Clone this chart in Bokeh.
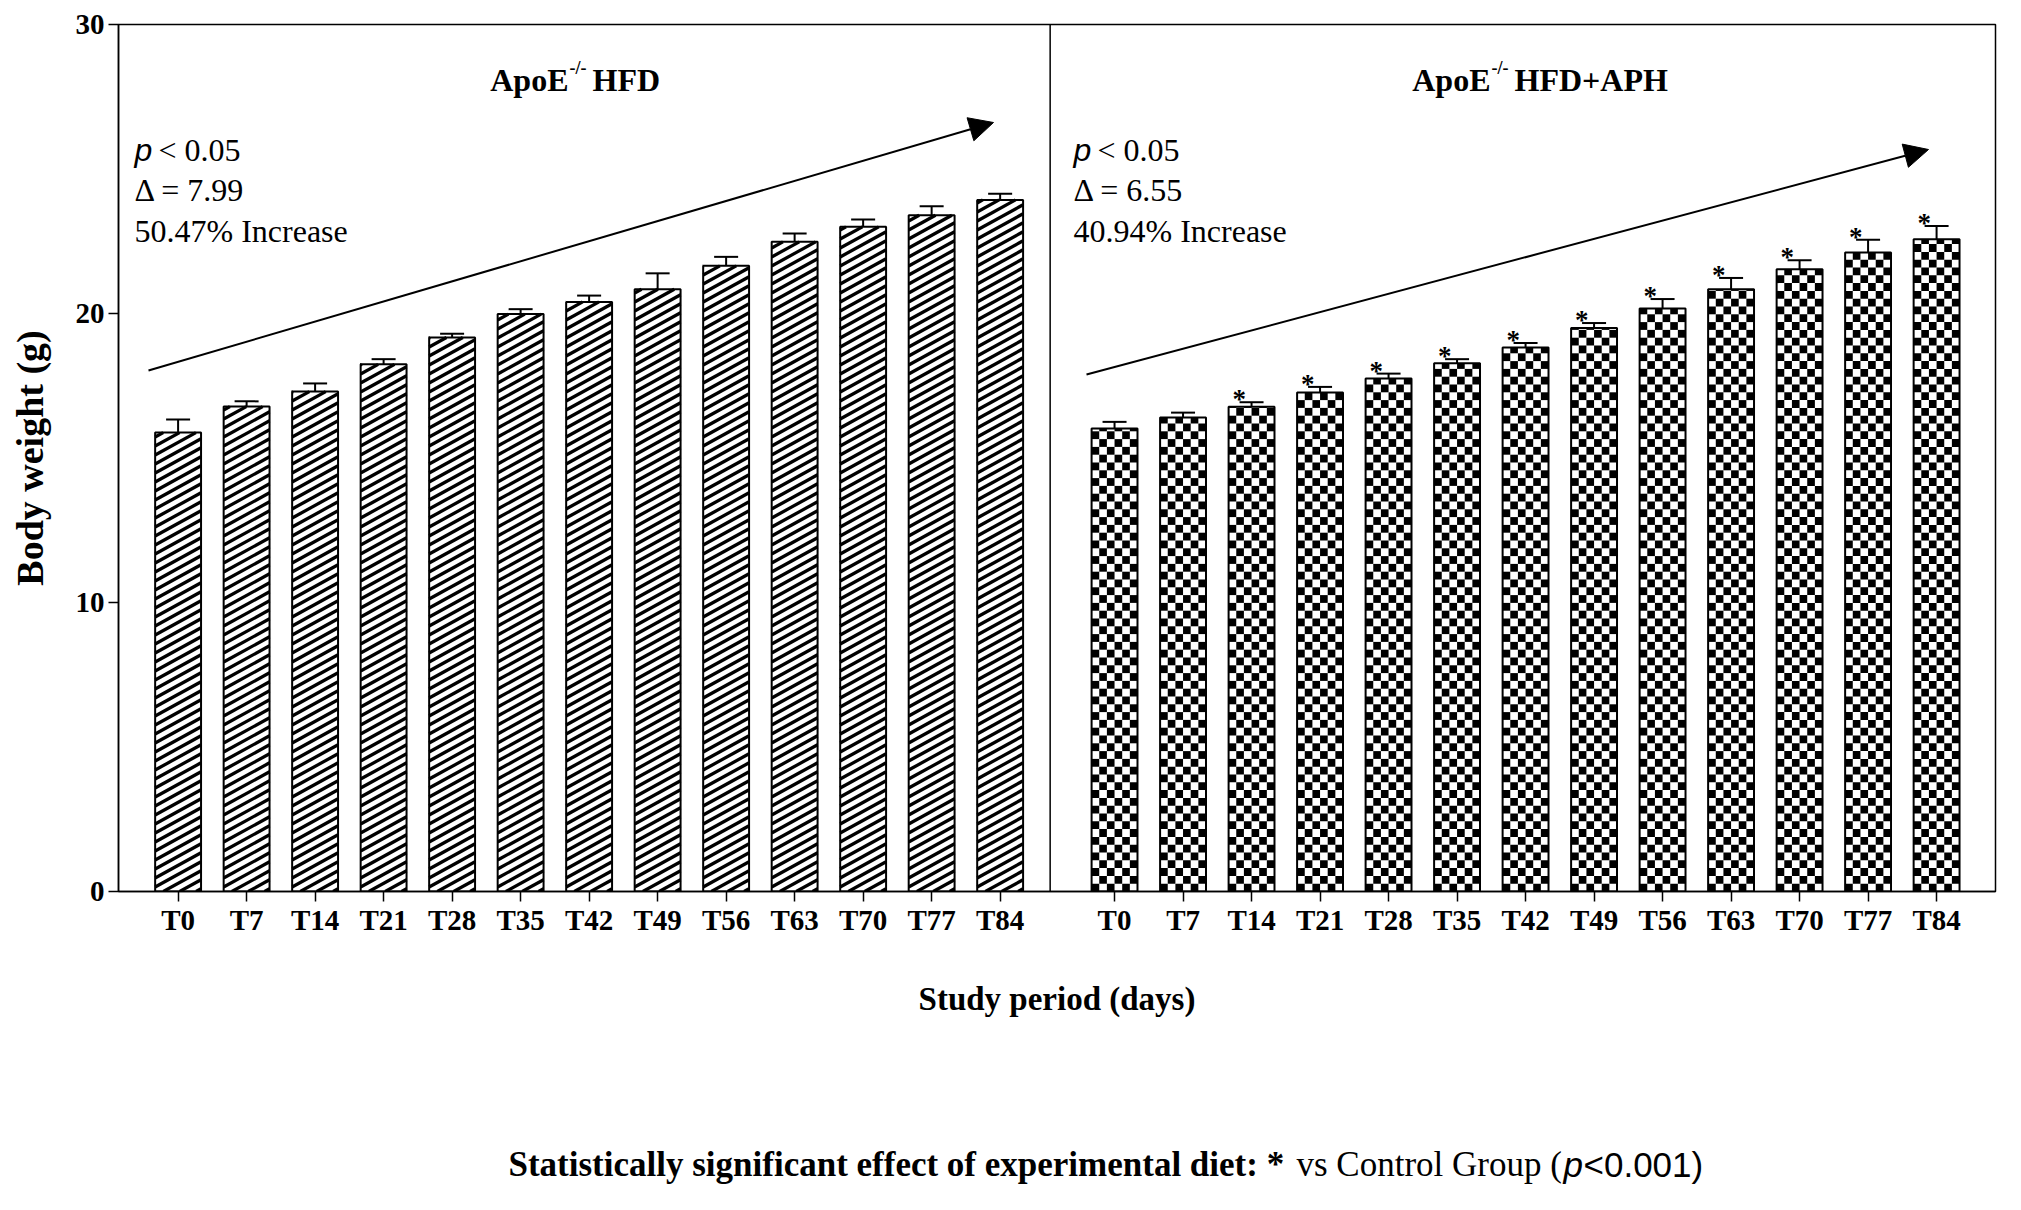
import math
from bokeh.plotting import figure
from bokeh.layouts import column
from bokeh.models import (Span, Arrow, NormalHead, Whisker, TeeHead, Label,
                          FixedTicker, ColumnDataSource, Range1d)
from bokeh.core.properties import value
from bokeh.embed import file_html
from bokeh.resources import INLINE

# ---------------- data ----------------
days = ["T0", "T7", "T14", "T21", "T28", "T35", "T42", "T49", "T56", "T63", "T70", "T77", "T84"]
hfd_mean = [15.88, 16.78, 17.30, 18.24, 19.17, 19.98, 20.40, 20.84, 21.65, 22.48, 23.00, 23.40, 23.93]
hfd_sem = [0.45, 0.18, 0.28, 0.18, 0.13, 0.17, 0.22, 0.55, 0.31, 0.29, 0.25, 0.31, 0.21]
aph_mean = [16.02, 16.40, 16.77, 17.27, 17.75, 18.28, 18.82, 19.50, 20.17, 20.84, 21.53, 22.11, 22.57]
aph_sem = [0.23, 0.17, 0.16, 0.19, 0.17, 0.14, 0.16, 0.17, 0.33, 0.39, 0.31, 0.44, 0.46]
aph_sig = [False, False, True, True, True, True, True, True, True, True, True, True, True]
y_ticks = [0, 10, 20, 30]
panel_titles = ["ApoE", "HFD", "HFD+APH"]
stats_hfd = ["< 0.05", "\u0394 = 7.99", "50.47% Increase"]
stats_aph = ["< 0.05", "\u0394 = 6.55", "40.94% Increase"]

SERIF = "Liberation Serif"
SANS = "Liberation Sans"

# ---------------- layout helpers ----------------
OFFSET = 13.67          # x position of first bar of the right panel
DIVIDER = 12.73
BAR_W = 0.67
X0, X1 = -0.87, 26.53
W, H = 2000, 1040
FOOT_H = 150
LEFT, RIGHT, TOP, BOTTOM = 118, 5, 24, 149
ppx = (W - LEFT - RIGHT) / (X1 - X0)
ppy = (H - TOP - BOTTOM) / 30.0


def px2x(px):      # page pixel -> data x
    return X0 + (px - 8 - LEFT) / ppx


def px2y(py):      # page pixel -> data y
    return 30 - (py - 8 - TOP) / ppy


x_left = [float(i) for i in range(len(days))]
x_right = [round(OFFSET + i, 2) for i in range(len(days))]

src_l = ColumnDataSource(dict(x=x_left, top=hfd_mean,
                              upper=[m + s for m, s in zip(hfd_mean, hfd_sem)]))
src_r = ColumnDataSource(dict(x=x_right, top=aph_mean,
                              upper=[m + s for m, s in zip(aph_mean, aph_sem)]))

star_x = [x - 0.18 for x, s in zip(x_right, aph_sig) if s]
star_y = [m + e for m, e, s in zip(aph_mean, aph_sem, aph_sig) if s]
src_s = ColumnDataSource(dict(x=star_x, y=star_y, t=["*"] * len(star_x)))

# ---- diagonal stripe texture for the HFD bars (clipped to each bar) ----
STRIPE_GAP = 9.0 / ppy            # vertical period (data units)
STRIPE_RISE = 0.55 * BAR_W * ppx / ppy   # rise across one bar (data units)
sx0, sy0, sx1, sy1 = [], [], [], []
for xc, top in zip(x_left, hfd_mean):
    xl, xr = xc - BAR_W / 2, xc + BAR_W / 2
    k0 = -math.ceil(STRIPE_RISE / STRIPE_GAP)
    k1 = math.ceil(top / STRIPE_GAP)
    for k in range(k0, k1 + 1):
        ya = k * STRIPE_GAP + STRIPE_GAP / 2
        yb = ya + STRIPE_RISE
        xa, xb = xl, xr
        if yb <= 0 or ya >= top:
            continue
        if ya < 0:
            xa = xl + (0 - ya) / STRIPE_RISE * BAR_W
            ya = 0
        if yb > top:
            xb = xl + (top - (yb - STRIPE_RISE)) / STRIPE_RISE * BAR_W
            yb = top
        sx0.append(xa); sy0.append(ya); sx1.append(xb); sy1.append(yb)

# ---- checker texture for the HFD+APH bars ----
NCOL = 6
CW = BAR_W / NCOL
CH = 7.8 / ppy
ql, qr, qb, qt = [], [], [], []
for xc, top in zip(x_right, aph_mean):
    xl = xc - BAR_W / 2
    nrow = math.ceil(top / CH)
    for j in range(nrow):
        b = j * CH
        t = min((j + 1) * CH, top)
        for i in range(NCOL):
            if (i + j) % 2 == 0:
                ql.append(xl + i * CW); qr.append(xl + (i + 1) * CW)
                qb.append(b); qt.append(t)

p = figure(width=W, height=H, x_range=Range1d(X0, X1), y_range=Range1d(0, 30),
           output_backend="svg", toolbar_location=None,
           min_border_left=LEFT, min_border_right=RIGHT,
           min_border_top=TOP, min_border_bottom=BOTTOM)
p.background_fill_color = "white"
p.border_fill_color = "white"
p.outline_line_color = "black"
p.outline_line_width = 1.5
p.xgrid.visible = False
p.ygrid.visible = False

# bar fills
p.segment(x0=sx0, y0=sy0, x1=sx1, y1=sy1, line_color="black", line_width=3.2)
p.quad(left=ql, right=qr, bottom=qb, top=qt, fill_color="black", line_color=None)

# bar outlines
for src in (src_l, src_r):
    p.vbar(x="x", top="top", width=BAR_W, source=src, fill_alpha=0,
           line_color="black", line_width=2)

# error bars (upper only)
for src in (src_l, src_r):
    p.add_layout(Whisker(source=src, base="x", lower="top", upper="upper",
                         lower_head=None,
                         upper_head=TeeHead(size=24, line_width=2, line_color="black"),
                         line_width=2, line_color="black"))

# significance stars
p.text(x="x", y="y", text="t", source=src_s, text_font=value(SERIF),
       text_font_style="bold", text_font_size="27px", text_align="center",
       text_baseline="alphabetic", y_offset=-3, text_color="black")

# panel divider
p.add_layout(Span(location=DIVIDER, dimension="height", line_color="black", line_width=1.5))

# trend arrows
p.add_layout(Arrow(x_start=px2x(156), y_start=px2y(378), x_end=px2x(1001), y_end=px2y(130),
                   line_width=2, line_color="black",
                   end=NormalHead(size=24, fill_color="black", line_color="black")))
p.add_layout(Arrow(x_start=px2x(1094), y_start=px2y(382), x_end=px2x(1936), y_end=px2y(157),
                   line_width=2, line_color="black",
                   end=NormalHead(size=24, fill_color="black", line_color="black")))


def label(x, y, text, font=SERIF, size="32px", style="normal", align="left"):
    p.add_layout(Label(x=x, y=y, text=text, text_font=font, text_font_size=size,
                       text_font_style=style, text_align=align,
                       text_baseline="alphabetic", text_color="black"))


# panel titles
ty = px2y(87)
sy = px2y(75)
label(px2x(576), ty, panel_titles[0], style="bold", align="right")
label(px2x(577), sy, "-/-", size="18px", style="bold")
label(px2x(600), ty, panel_titles[1], style="bold")
label(px2x(1498), ty, panel_titles[0], style="bold", align="right")
label(px2x(1499), sy, "-/-", size="18px", style="bold")
label(px2x(1522), ty, panel_titles[2], style="bold")

# stats text
for x_p, stats in ((142, stats_hfd), (1081, stats_aph)):
    label(px2x(x_p), px2y(157), "p", font=SANS, style="italic")
    label(px2x(x_p + 24), px2y(157), stats[0])
    label(px2x(x_p), px2y(197), stats[1])
    label(px2x(x_p), px2y(238), stats[2])

# axes
p.yaxis.ticker = FixedTicker(ticks=y_ticks)
p.yaxis.minor_tick_line_color = None
p.yaxis.major_tick_out = 10
p.yaxis.major_tick_in = 0
p.yaxis.major_label_standoff = 4
p.yaxis.axis_label = "Body weight (g)"
p.yaxis.axis_label_standoff = 22

all_x = x_left + x_right
p.xaxis.ticker = FixedTicker(ticks=all_x)
p.xaxis.major_label_overrides = {x: d for x, d in zip(all_x, days + days)}
p.xaxis.minor_tick_line_color = None
p.xaxis.major_tick_out = 10
p.xaxis.major_tick_in = 0
p.xaxis.major_label_standoff = 2
p.xaxis.axis_label = "Study period (days)"
p.xaxis.axis_label_standoff = 42

for ax in (p.xaxis[0], p.yaxis[0]):
    ax.axis_line_color = "black"
    ax.axis_line_width = 1.5
    ax.major_tick_line_color = "black"
    ax.major_tick_line_width = 1.5
    ax.major_label_text_font = SERIF
    ax.major_label_text_font_style = "bold"
    ax.major_label_text_font_size = "29px"
    ax.major_label_text_color = "black"
    ax.axis_label_text_font = SERIF
    ax.axis_label_text_font_style = "bold"
    ax.axis_label_text_color = "black"
p.xaxis.axis_label_text_font_size = "33px"
p.yaxis.axis_label_text_font_size = "38px"

# ---------------- footer (separate figure; x in figure pixels) ----------------
# the column aligns this figure's frame with the main frame, so use the same span
foot = figure(width=W, height=FOOT_H, x_range=Range1d(LEFT, W - RIGHT),
              y_range=Range1d(0, FOOT_H),
              output_backend="svg", toolbar_location=None,
              x_axis_type=None, y_axis_type=None,
              min_border_left=LEFT, min_border_right=RIGHT,
              min_border_top=0, min_border_bottom=0)
foot.outline_line_color = None
foot.xgrid.visible = False
foot.ygrid.visible = False
foot.background_fill_color = "white"
foot.border_fill_color = "white"

fy = 26
foot_parts = [
    (516, "Statistically significant effect of experimental diet: *", SERIF, "bold"),
    (1304, "vs Control Group (", SERIF, "normal"),
    (1571, "p", SANS, "italic"),
    (1591, "<0.001)", SANS, "normal"),
]
for xp, txt, font, style in foot_parts:
    foot.text(x=[xp - 8], y=[fy], text=[txt], text_font=value(font), text_font_style=style,
              text_font_size="35px", text_align="left", text_baseline="alphabetic",
              text_color="black")

open("out.html", "w").write(file_html(column(p, foot), INLINE))
